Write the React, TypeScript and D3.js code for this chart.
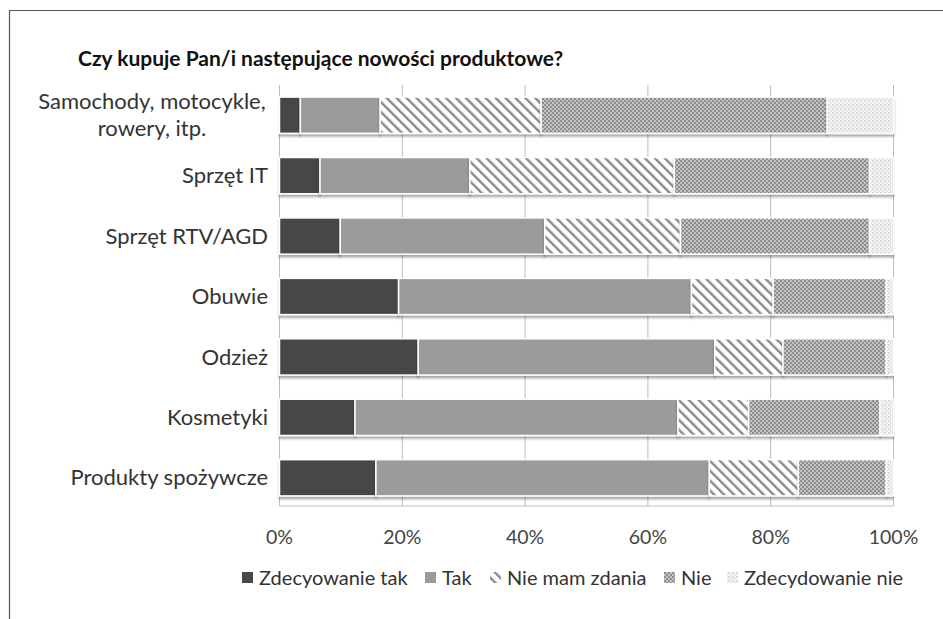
import React from "react";
import * as d3 from "d3";

const categories = [
  ["Samochody, motocykle,", "rowery, itp."],
  ["Sprzęt IT"],
  ["Sprzęt RTV/AGD"],
  ["Obuwie"],
  ["Odzież"],
  ["Kosmetyki"],
  ["Produkty spożywcze"],
];
const seriesNames = ["Zdecyowanie tak", "Tak", "Nie mam zdania", "Nie", "Zdecydowanie nie"];
const zdecydowanieTak = [3.4, 6.6, 9.9, 19.4, 22.6, 12.3, 15.7];
const tak = [13.0, 24.4, 33.3, 47.7, 48.3, 52.6, 54.3];
const nieMamZdania = [26.2, 33.3, 22.1, 13.3, 11.1, 11.5, 14.5];
const nie = [46.6, 31.8, 30.8, 18.4, 16.8, 21.4, 14.3];
const zdecydowanieNie = [10.8, 3.9, 3.9, 1.2, 1.2, 2.2, 1.2];
const tickValues = [0, 20, 40, 60, 80, 100];
const title = "Czy kupuje Pan/i następujące nowości produktowe?";

const W = 943;
const H = 619;
const FONT = "Lato, 'Open Sans', sans-serif";
const fills = ["#474747", "#9b9b9b", "url(#hatch)", "url(#checker)", "url(#dots)"];

export default function App() {
  const keys = categories.map((c) => c.join(" "));
  const rows = keys.map((k, i) => ({
    key: k,
    s0: zdecydowanieTak[i],
    s1: tak[i],
    s2: nieMamZdania[i],
    s3: nie[i],
    s4: zdecydowanieNie[i],
  }));
  const stack = d3.stack<any>().keys(["s0", "s1", "s2", "s3", "s4"])(rows);
  const x = d3.scaleLinear().domain([0, 100]).range([279.5, 893.5]);
  const y = d3.scaleBand<string>().domain(keys).range([85, 508]).paddingInner(0.4).paddingOuter(0.2);
  const top = 85;
  const bottom = 506;

  const legendItems = [
    { x: 242, tx: 259 },
    { x: 425, tx: 442 },
    { x: 490, tx: 507 },
    { x: 664, tx: 681 },
    { x: 727, tx: 744 },
  ];

  return (
    <svg width={W} height={H} style={{ position: "absolute", left: 0, top: 0, background: "#fff" }}>
      <defs>
        <pattern id="hatch" patternUnits="userSpaceOnUse" width="7" height="7" patternTransform="rotate(-45)">
          <rect width="7" height="7" fill="#fff" />
          <rect x="0" y="0" width="2.4" height="7" fill="#8a8a8a" />
        </pattern>
        <pattern id="checker" patternUnits="userSpaceOnUse" width="4" height="4">
          <rect width="4" height="4" fill="#c4c4c4" />
          <rect x="0" y="0" width="2" height="2" fill="#8c8c8c" />
          <rect x="2" y="2" width="2" height="2" fill="#8c8c8c" />
        </pattern>
        <pattern id="dots" patternUnits="userSpaceOnUse" width="4" height="4">
          <rect width="4" height="4" fill="#f4f4f4" />
          <rect x="0" y="0" width="1.5" height="1.5" fill="#c8c8c8" />
          <rect x="2" y="2" width="1.5" height="1.5" fill="#d8d8d8" />
        </pattern>
        <filter id="shadow" x="-5%" y="-20%" width="110%" height="160%">
          <feDropShadow dx="0" dy="2.5" stdDeviation="1.2" floodColor="#000" floodOpacity="0.35" />
        </filter>
      </defs>
      <line x1={9} y1={10.5} x2={W} y2={10.5} stroke="#555" strokeWidth={1.2} />
      <line x1={9.5} y1={10} x2={9.5} y2={H} stroke="#555" strokeWidth={1.2} />

      <text x={78} y={66} fontFamily={FONT} fontWeight="bold" fontSize={21} fill="#111">
        {title}
      </text>

      {tickValues.map((t) => (
        <line key={t} x1={x(t)} x2={x(t)} y1={top} y2={bottom} stroke="#bdbdbd" strokeWidth={1} />
      ))}
      <line x1={x(0)} x2={x(100)} y1={bottom} y2={bottom} stroke="#bdbdbd" strokeWidth={1} />

      {stack.map((layer, si) => (
        <g key={si}>
          {layer.map((d, i) => (
            <rect
              key={i}
              x={x(d[0])}
              y={y(keys[i])!}
              width={Math.max(0, x(d[1]) - x(d[0]))}
              height={y.bandwidth()}
              fill={fills[si]}
              stroke="#fff"
              strokeWidth={1.5}
              filter="url(#shadow)"
            />
          ))}
        </g>
      ))}

      {categories.map((c, i) => {
        const cy = y(keys[i])! + y.bandwidth() / 2;
        const lh = 27;
        const start = cy - ((c.length - 1) * lh) / 2;
        if (c.length > 1) {
          return (
            <text key={i} textAnchor="middle" fontFamily={FONT} fontSize={22} fill="#333">
              {c.map((line, li) => (
                <tspan key={li} x={152} y={start + li * lh} dy="0.35em">
                  {line}
                </tspan>
              ))}
            </text>
          );
        }
        return (
          <text key={i} x={268} y={cy} dy="0.35em" textAnchor="end" fontFamily={FONT} fontSize={22} fill="#333">
            {c[0]}
          </text>
        );
      })}

      {tickValues.map((t) => (
        <text key={t} x={x(t)} y={544} textAnchor="middle" fontFamily={FONT} fontSize={19.5} fill="#444">
          {t + "%"}
        </text>
      ))}

      {seriesNames.map((n, i) => (
        <g key={n}>
          <rect x={legendItems[i].x} y={572} width={11} height={11} fill={fills[i]} />
          <text x={legendItems[i].tx} y={585} fontFamily={FONT} fontSize={20} fill="#333">
            {n}
          </text>
        </g>
      ))}
    </svg>
  );
}
